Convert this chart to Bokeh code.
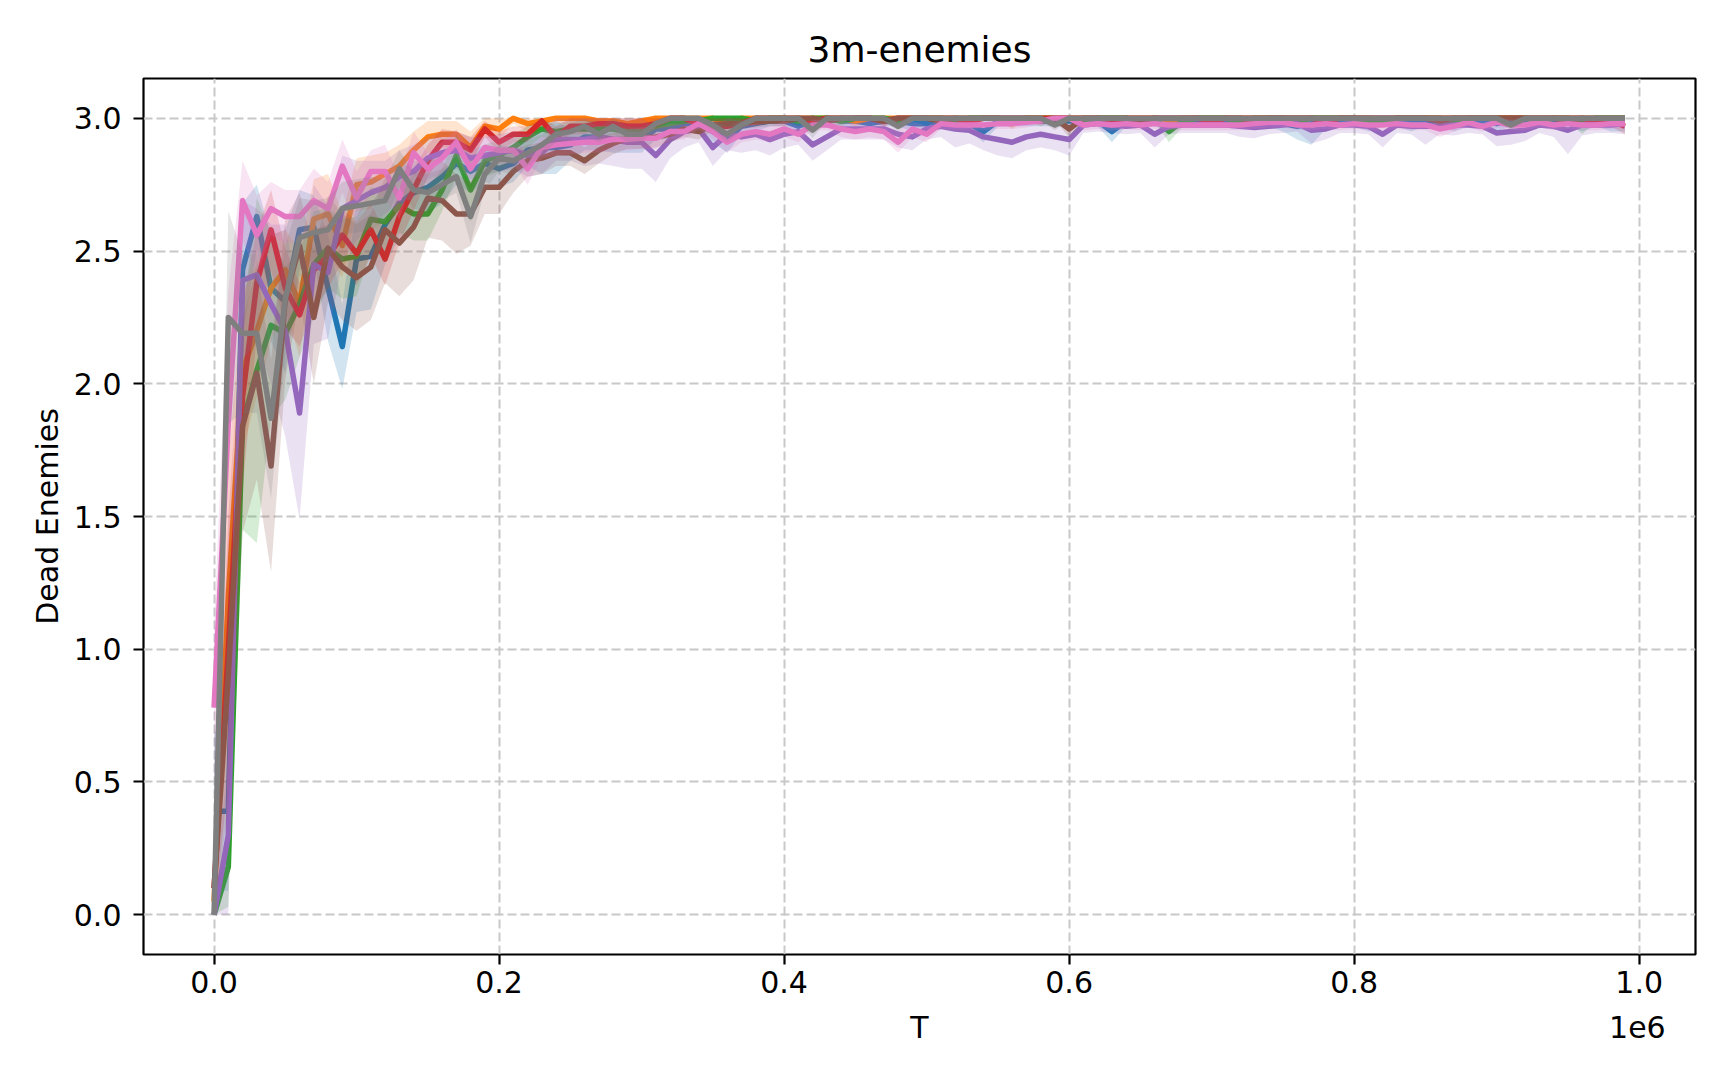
#!/usr/bin/env python3

from bokeh.embed import file_html
from bokeh.models import CustomJSTickFormatter, FixedTicker, LinearAxis, NumeralTickFormatter, Range1d
from bokeh.plotting import figure
from bokeh.resources import INLINE

# environment steps (T)
t_steps = [
    0, 10000, 20000, 30000, 40000, 50000, 60000, 70000, 80000, 90000,
    100000, 110000, 120000, 130000, 140000, 150000, 160000, 170000, 180000, 190000,
    200000, 210000, 220000, 230000, 240000, 250000, 260000, 270000, 280000, 290000,
    300000, 310000, 320000, 330000, 340000, 350000, 360000, 370000, 380000, 390000,
    400000, 410000, 420000, 430000, 440000, 450000, 460000, 470000, 480000, 490000,
    500000, 510000, 520000, 530000, 540000, 550000, 560000, 570000, 580000, 590000,
    600000, 610000, 620000, 630000, 640000, 650000, 660000, 670000, 680000, 690000,
    700000, 710000, 720000, 730000, 740000, 750000, 760000, 770000, 780000, 790000,
    800000, 810000, 820000, 830000, 840000, 850000, 860000, 870000, 880000, 890000,
    900000, 910000, 920000, 930000, 940000, 950000, 960000, 970000, 980000, 990000,
]

# mean dead enemies per run
mean_blue = [
    0.39, 0.39, 2.43, 2.63, 2.36, 2.31, 2.58, 2.59, 2.36, 2.14,
    2.47, 2.48, 2.60, 2.68, 2.72, 2.74, 2.78, 2.83, 2.80, 2.83,
    2.81, 2.83, 2.88, 2.89, 2.89, 2.90, 2.93, 2.93, 2.92, 2.92,
    2.92, 2.96, 2.96, 2.98, 2.98, 2.95, 2.92, 2.97, 2.98, 2.99,
    2.99, 2.97, 2.99, 3.00, 2.99, 2.99, 2.98, 2.99, 2.99, 2.98,
    2.98, 2.99, 2.99, 2.98, 2.95, 2.99, 2.99, 2.99, 2.99, 2.99,
    2.99, 2.99, 2.99, 2.95, 2.99, 2.99, 2.99, 2.98, 2.99, 2.99,
    2.99, 2.99, 2.99, 2.99, 2.99, 2.98, 2.97, 2.98, 2.99, 2.99,
    2.99, 2.98, 2.99, 2.99, 2.98, 2.99, 2.99, 2.98, 2.99, 2.99,
    2.98, 2.99, 2.99, 2.99, 2.99, 2.99, 2.98, 2.99, 2.98, 2.98,
]
mean_orange = [
    0.05, 1.20, 2.05, 2.20, 2.36, 2.43, 2.30, 2.62, 2.64, 2.52,
    2.75, 2.76, 2.79, 2.82, 2.88, 2.93, 2.94, 2.94, 2.89, 2.97,
    2.96, 3.00, 2.98, 2.99, 3.00, 3.00, 3.00, 2.99, 2.99, 2.98,
    2.99, 3.00, 3.00, 3.00, 3.00, 3.00, 2.98, 3.00, 3.00, 3.00,
    3.00, 3.00, 3.00, 3.00, 3.00, 2.99, 3.00, 3.00, 3.00, 3.00,
    3.00, 3.00, 3.00, 3.00, 3.00, 3.00, 2.98, 3.00, 3.00, 3.00,
    3.00, 3.00, 3.00, 3.00, 3.00, 3.00, 3.00, 2.99, 3.00, 3.00,
    3.00, 3.00, 3.00, 3.00, 3.00, 3.00, 3.00, 3.00, 3.00, 3.00,
    3.00, 3.00, 2.99, 3.00, 3.00, 3.00, 3.00, 3.00, 3.00, 3.00,
    3.00, 3.00, 3.00, 3.00, 3.00, 3.00, 3.00, 3.00, 3.00, 3.00,
]
mean_green = [
    0.00, 0.18, 1.85, 2.05, 2.22, 2.19, 2.30, 2.45, 2.51, 2.47,
    2.48, 2.62, 2.61, 2.67, 2.64, 2.64, 2.73, 2.86, 2.73, 2.84,
    2.86, 2.89, 2.93, 2.96, 2.95, 2.96, 2.96, 2.96, 2.96, 2.95,
    2.95, 2.97, 2.98, 2.99, 2.99, 3.00, 3.00, 3.00, 2.99, 3.00,
    3.00, 2.99, 3.00, 3.00, 2.99, 3.00, 3.00, 3.00, 2.99, 3.00,
    3.00, 3.00, 2.99, 3.00, 3.00, 3.00, 2.99, 3.00, 3.00, 3.00,
    3.00, 2.99, 3.00, 3.00, 3.00, 2.99, 3.00, 2.95, 2.99, 3.00,
    3.00, 3.00, 2.99, 3.00, 3.00, 3.00, 2.99, 3.00, 3.00, 3.00,
    3.00, 2.99, 2.99, 3.00, 3.00, 3.00, 3.00, 2.99, 3.00, 3.00,
    3.00, 3.00, 3.00, 2.99, 3.00, 3.00, 2.99, 3.00, 3.00, 3.00,
]
mean_red = [
    0.10, 1.00, 1.95, 2.38, 2.58, 2.36, 2.26, 2.43, 2.48, 2.56,
    2.49, 2.58, 2.47, 2.63, 2.73, 2.84, 2.91, 2.91, 2.88, 2.96,
    2.91, 2.94, 2.94, 2.99, 2.93, 2.97, 2.97, 2.98, 2.98, 2.97,
    2.97, 2.98, 3.00, 3.00, 2.98, 2.97, 2.97, 2.98, 3.00, 3.00,
    3.00, 3.00, 2.99, 3.00, 3.00, 3.00, 3.00, 2.99, 3.00, 3.00,
    3.00, 3.00, 3.00, 2.99, 3.00, 3.00, 3.00, 3.00, 3.00, 3.00,
    3.00, 3.00, 3.00, 2.99, 3.00, 3.00, 3.00, 3.00, 3.00, 3.00,
    2.99, 3.00, 3.00, 3.00, 3.00, 3.00, 3.00, 3.00, 2.99, 3.00,
    3.00, 3.00, 3.00, 3.00, 3.00, 3.00, 3.00, 3.00, 3.00, 3.00,
    3.00, 3.00, 3.00, 3.00, 3.00, 3.00, 3.00, 2.99, 2.99, 2.97,
]
mean_purple = [
    0.00, 0.30, 2.39, 2.41, 2.30, 2.20, 1.89, 2.45, 2.42, 2.66,
    2.69, 2.72, 2.74, 2.78, 2.80, 2.85, 2.87, 2.88, 2.85, 2.86,
    2.87, 2.88, 2.86, 2.87, 2.92, 2.92, 2.92, 2.93, 2.92, 2.91,
    2.91, 2.86, 2.92, 2.95, 2.96, 2.89, 2.94, 2.93, 2.94, 2.92,
    2.94, 2.95, 2.90, 2.93, 2.96, 2.96, 2.96, 2.96, 2.94, 2.93,
    2.96, 2.97, 2.96, 2.955, 2.93, 2.92, 2.91, 2.93, 2.94, 2.93,
    2.92, 2.975, 2.98, 2.975, 2.97, 2.975, 2.94, 2.97, 2.975, 2.975,
    2.975, 2.975, 2.97, 2.965, 2.97, 2.975, 2.98, 2.955, 2.96, 2.975,
    2.975, 2.97, 2.94, 2.975, 2.97, 2.97, 2.97, 2.975, 2.975, 2.97,
    2.945, 2.95, 2.955, 2.975, 2.97, 2.955, 2.975, 2.975, 2.975, 2.98,
]
mean_brown = [
    0.10, 0.90, 1.84, 2.04, 1.69, 2.32, 2.52, 2.25, 2.51, 2.44,
    2.40, 2.44, 2.58, 2.53, 2.59, 2.70, 2.69, 2.64, 2.64, 2.74,
    2.74, 2.80, 2.84, 2.85, 2.87, 2.87, 2.84, 2.88, 2.905, 2.925,
    2.925, 2.93, 2.94, 2.96, 2.95, 2.975, 2.98, 2.98, 2.985, 2.99,
    2.99, 3.00, 3.00, 2.99, 3.00, 3.00, 3.00, 2.99, 3.00, 3.00,
    3.00, 2.99, 3.00, 3.00, 3.00, 3.00, 3.00, 3.00, 2.99, 3.00,
    2.96, 3.00, 3.00, 3.00, 3.00, 2.99, 3.00, 3.00, 3.00, 3.00,
    3.00, 3.00, 3.00, 2.99, 3.00, 3.00, 3.00, 3.00, 3.00, 3.00,
    3.00, 3.00, 3.00, 3.00, 3.00, 3.00, 2.99, 3.00, 3.00, 3.00,
    3.00, 3.00, 3.00, 3.00, 3.00, 2.99, 3.00, 3.00, 3.00, 3.00,
]
mean_pink = [
    0.78, 1.85, 2.69, 2.56, 2.66, 2.63, 2.63, 2.69, 2.66, 2.82,
    2.70, 2.80, 2.80, 2.70, 2.87, 2.81, 2.85, 2.91, 2.81, 2.89,
    2.88, 2.88, 2.81, 2.89, 2.90, 2.905, 2.91, 2.91, 2.92, 2.92,
    2.925, 2.925, 2.95, 2.95, 2.98, 2.95, 2.91, 2.94, 2.95, 2.94,
    2.96, 2.94, 2.975, 2.975, 2.96, 2.95, 2.96, 2.95, 2.91, 2.96,
    2.94, 2.98, 2.975, 2.975, 2.975, 2.98, 2.98, 2.985, 2.99, 3.00,
    3.00, 2.975, 2.98, 2.975, 2.98, 2.975, 2.98, 2.975, 2.975, 2.975,
    2.975, 2.975, 2.975, 2.98, 2.985, 2.985, 2.975, 2.975, 2.98, 2.975,
    2.98, 2.975, 2.975, 2.98, 2.975, 2.975, 2.96, 2.97, 2.985, 2.97,
    2.985, 2.975, 2.975, 2.985, 2.975, 2.98, 2.975, 2.975, 2.98, 2.98,
]
mean_gray = [
    0.00, 2.25, 2.19, 2.19, 1.87, 2.32, 2.55, 2.57, 2.58, 2.66,
    2.67, 2.68, 2.69, 2.81, 2.73, 2.72, 2.75, 2.78, 2.63, 2.79,
    2.85, 2.84, 2.87, 2.90, 2.94, 2.95, 2.97, 2.94, 2.97, 2.94,
    2.94, 2.98, 3.00, 3.00, 3.00, 2.975, 2.94, 2.975, 3.00, 3.00,
    3.00, 3.00, 2.955, 3.00, 3.00, 3.00, 3.00, 3.00, 2.97, 3.00,
    3.00, 3.00, 3.00, 3.00, 3.00, 3.00, 3.00, 3.00, 3.00, 2.975,
    3.00, 3.00, 3.00, 3.00, 3.00, 3.00, 3.00, 3.00, 3.00, 3.00,
    3.00, 3.00, 3.00, 3.00, 3.00, 3.00, 3.00, 3.00, 3.00, 3.00,
    3.00, 3.00, 3.00, 3.00, 3.00, 3.00, 3.00, 3.00, 3.00, 3.00,
    3.00, 2.975, 3.00, 3.00, 3.00, 3.00, 3.00, 3.00, 3.00, 3.00,
]

# half-width of the shaded band around each mean
spread_blue = [
    0.30, 0.30, 0.25, 0.12, 0.20, 0.27, 0.15, 0.12, 0.20, 0.16,
    0.20, 0.20, 0.15, 0.13, 0.12, 0.10, 0.10, 0.08, 0.08, 0.07,
    0.07, 0.07, 0.06, 0.10, 0.10, 0.06, 0.05, 0.05, 0.05, 0.05,
    0.05, 0.04, 0.04, 0.03, 0.03, 0.04, 0.05, 0.03, 0.03, 0.02,
    0.02, 0.03, 0.02, 0.02, 0.02, 0.02, 0.03, 0.02, 0.02, 0.03,
    0.03, 0.02, 0.02, 0.03, 0.04, 0.02, 0.02, 0.02, 0.02, 0.02,
    0.02, 0.02, 0.02, 0.04, 0.02, 0.02, 0.02, 0.03, 0.02, 0.02,
    0.02, 0.02, 0.02, 0.02, 0.02, 0.03, 0.05, 0.08, 0.03, 0.02,
    0.02, 0.03, 0.02, 0.02, 0.03, 0.02, 0.02, 0.03, 0.02, 0.02,
    0.03, 0.02, 0.02, 0.02, 0.02, 0.02, 0.03, 0.02, 0.03, 0.03,
]
spread_orange = [
    0.05, 0.50, 0.30, 0.25, 0.20, 0.15, 0.20, 0.15, 0.15, 0.12,
    0.10, 0.10, 0.08, 0.08, 0.07, 0.06, 0.05, 0.05, 0.06, 0.04,
    0.04, 0.02, 0.03, 0.02, 0.02, 0.02, 0.02, 0.02, 0.02, 0.02,
    0.02, 0.01, 0.01, 0.01, 0.01, 0.01, 0.02, 0.01, 0.01, 0.01,
    0.01, 0.01, 0.01, 0.01, 0.01, 0.02, 0.01, 0.01, 0.01, 0.01,
    0.01, 0.01, 0.01, 0.01, 0.01, 0.01, 0.02, 0.01, 0.01, 0.01,
    0.01, 0.01, 0.01, 0.01, 0.01, 0.01, 0.01, 0.02, 0.01, 0.01,
    0.01, 0.01, 0.01, 0.01, 0.01, 0.01, 0.01, 0.01, 0.01, 0.01,
    0.01, 0.01, 0.02, 0.01, 0.01, 0.01, 0.01, 0.01, 0.01, 0.01,
    0.01, 0.01, 0.01, 0.01, 0.01, 0.01, 0.01, 0.01, 0.01, 0.01,
]
spread_green = [
    0.05, 0.15, 0.40, 0.65, 0.35, 0.25, 0.20, 0.20, 0.15, 0.15,
    0.15, 0.12, 0.12, 0.10, 0.10, 0.10, 0.08, 0.08, 0.12, 0.06,
    0.06, 0.05, 0.04, 0.03, 0.03, 0.03, 0.03, 0.03, 0.03, 0.03,
    0.03, 0.02, 0.02, 0.01, 0.01, 0.01, 0.01, 0.01, 0.02, 0.01,
    0.01, 0.02, 0.01, 0.01, 0.02, 0.01, 0.01, 0.01, 0.02, 0.01,
    0.01, 0.01, 0.02, 0.01, 0.01, 0.01, 0.02, 0.01, 0.01, 0.01,
    0.01, 0.02, 0.01, 0.01, 0.01, 0.02, 0.01, 0.04, 0.02, 0.01,
    0.01, 0.01, 0.02, 0.01, 0.01, 0.01, 0.02, 0.01, 0.01, 0.01,
    0.01, 0.02, 0.02, 0.01, 0.01, 0.01, 0.01, 0.02, 0.01, 0.01,
    0.01, 0.01, 0.01, 0.02, 0.01, 0.01, 0.05, 0.01, 0.01, 0.01,
]
spread_red = [
    0.10, 0.50, 0.35, 0.20, 0.15, 0.15, 0.12, 0.15, 0.12, 0.10,
    0.12, 0.10, 0.10, 0.10, 0.08, 0.06, 0.05, 0.04, 0.05, 0.03,
    0.04, 0.03, 0.03, 0.02, 0.04, 0.03, 0.03, 0.02, 0.02, 0.03,
    0.03, 0.02, 0.01, 0.01, 0.02, 0.03, 0.03, 0.02, 0.01, 0.01,
    0.01, 0.01, 0.02, 0.01, 0.01, 0.01, 0.01, 0.02, 0.01, 0.01,
    0.01, 0.01, 0.01, 0.02, 0.01, 0.01, 0.01, 0.01, 0.01, 0.01,
    0.01, 0.01, 0.01, 0.02, 0.01, 0.01, 0.01, 0.01, 0.01, 0.01,
    0.02, 0.01, 0.01, 0.01, 0.01, 0.01, 0.01, 0.01, 0.02, 0.01,
    0.01, 0.01, 0.01, 0.01, 0.01, 0.01, 0.01, 0.01, 0.01, 0.01,
    0.01, 0.01, 0.01, 0.01, 0.01, 0.01, 0.01, 0.02, 0.02, 0.03,
]
spread_purple = [
    0.05, 0.30, 0.30, 0.25, 0.30, 0.40, 0.40, 0.30, 0.25, 0.20,
    0.15, 0.12, 0.10, 0.10, 0.10, 0.08, 0.08, 0.07, 0.08, 0.07,
    0.07, 0.07, 0.08, 0.08, 0.08, 0.08, 0.10, 0.10, 0.10, 0.10,
    0.10, 0.10, 0.07, 0.06, 0.05, 0.07, 0.06, 0.06, 0.06, 0.06,
    0.05, 0.05, 0.06, 0.05, 0.04, 0.04, 0.04, 0.04, 0.05, 0.05,
    0.04, 0.04, 0.07, 0.05, 0.05, 0.06, 0.06, 0.05, 0.05, 0.05,
    0.06, 0.03, 0.03, 0.03, 0.03, 0.03, 0.05, 0.03, 0.03, 0.03,
    0.03, 0.03, 0.04, 0.04, 0.03, 0.03, 0.03, 0.05, 0.04, 0.03,
    0.03, 0.03, 0.05, 0.03, 0.03, 0.07, 0.03, 0.04, 0.03, 0.03,
    0.05, 0.05, 0.04, 0.03, 0.04, 0.09, 0.04, 0.03, 0.03, 0.04,
]
spread_brown = [
    0.10, 0.50, 0.40, 0.40, 0.40, 0.30, 0.20, 0.25, 0.20, 0.20,
    0.20, 0.20, 0.20, 0.20, 0.20, 0.15, 0.15, 0.15, 0.12, 0.10,
    0.10, 0.08, 0.06, 0.06, 0.05, 0.05, 0.05, 0.05, 0.04, 0.04,
    0.04, 0.04, 0.03, 0.03, 0.03, 0.02, 0.02, 0.02, 0.02, 0.02,
    0.02, 0.01, 0.01, 0.02, 0.01, 0.01, 0.01, 0.02, 0.01, 0.01,
    0.01, 0.02, 0.01, 0.01, 0.01, 0.01, 0.01, 0.01, 0.02, 0.01,
    0.03, 0.01, 0.01, 0.01, 0.01, 0.02, 0.01, 0.01, 0.01, 0.01,
    0.01, 0.01, 0.01, 0.02, 0.01, 0.01, 0.01, 0.01, 0.01, 0.01,
    0.01, 0.01, 0.01, 0.01, 0.01, 0.01, 0.02, 0.01, 0.01, 0.01,
    0.01, 0.01, 0.01, 0.01, 0.01, 0.02, 0.01, 0.01, 0.01, 0.01,
]
spread_pink = [
    0.30, 0.50, 0.15, 0.15, 0.10, 0.10, 0.10, 0.12, 0.10, 0.10,
    0.10, 0.08, 0.10, 0.08, 0.08, 0.06, 0.06, 0.05, 0.06, 0.05,
    0.05, 0.05, 0.06, 0.04, 0.04, 0.04, 0.04, 0.04, 0.04, 0.04,
    0.04, 0.04, 0.03, 0.03, 0.02, 0.03, 0.04, 0.03, 0.03, 0.03,
    0.03, 0.03, 0.02, 0.02, 0.03, 0.03, 0.03, 0.03, 0.04, 0.03,
    0.03, 0.02, 0.02, 0.02, 0.02, 0.02, 0.02, 0.02, 0.01, 0.01,
    0.01, 0.02, 0.02, 0.02, 0.02, 0.02, 0.02, 0.02, 0.02, 0.02,
    0.02, 0.02, 0.02, 0.02, 0.02, 0.02, 0.02, 0.02, 0.02, 0.02,
    0.02, 0.02, 0.02, 0.02, 0.02, 0.02, 0.03, 0.02, 0.02, 0.02,
    0.02, 0.02, 0.02, 0.02, 0.02, 0.02, 0.02, 0.02, 0.02, 0.02,
]
spread_gray = [
    0.05, 0.40, 0.30, 0.30, 0.30, 0.20, 0.15, 0.12, 0.12, 0.10,
    0.10, 0.10, 0.08, 0.07, 0.07, 0.07, 0.06, 0.06, 0.10, 0.06,
    0.05, 0.05, 0.05, 0.04, 0.03, 0.03, 0.03, 0.03, 0.03, 0.03,
    0.03, 0.02, 0.01, 0.01, 0.01, 0.02, 0.03, 0.02, 0.01, 0.01,
    0.01, 0.01, 0.03, 0.01, 0.01, 0.01, 0.01, 0.01, 0.02, 0.01,
    0.01, 0.01, 0.01, 0.01, 0.01, 0.01, 0.01, 0.01, 0.01, 0.02,
    0.01, 0.01, 0.01, 0.01, 0.01, 0.01, 0.01, 0.01, 0.01, 0.01,
    0.01, 0.01, 0.01, 0.01, 0.01, 0.01, 0.01, 0.01, 0.01, 0.01,
    0.01, 0.01, 0.01, 0.01, 0.01, 0.01, 0.01, 0.01, 0.01, 0.01,
    0.01, 0.02, 0.01, 0.01, 0.01, 0.01, 0.01, 0.01, 0.01, 0.01,
]

x_ticks = [0, 200000, 400000, 600000, 800000, 1000000]
y_ticks = [0.0, 0.5, 1.0, 1.5, 2.0, 2.5, 3.0]
y_limits = [0.0, 3.0]
x_scale_text = "1e6"

runs = [
    (mean_blue, spread_blue, "#1f77b4"),
    (mean_orange, spread_orange, "#ff7f0e"),
    (mean_green, spread_green, "#2ca02c"),
    (mean_red, spread_red, "#d62728"),
    (mean_purple, spread_purple, "#9467bd"),
    (mean_brown, spread_brown, "#8c564b"),
    (mean_pink, spread_pink, "#e377c2"),
    (mean_gray, spread_gray, "#7f7f7f"),
]

FONT = "DejaVu Sans"

x_span = t_steps[-1] - t_steps[0]
x_pad = 0.05 * x_span
y_pad = 0.05 * (y_limits[1] - y_limits[0])
x_range = Range1d(t_steps[0] - x_pad, t_steps[-1] + x_pad)
y_range = Range1d(y_limits[0] - y_pad, y_limits[1] + y_pad)

p = figure(
    frame_width=1552,
    frame_height=876,
    min_border_left=143,
    min_border_right=24,
    min_border_top=78,
    min_border_bottom=104,
    x_range=x_range,
    y_range=y_range,
    output_backend="svg",
    toolbar_location=None,
    title="3m-enemies",
)
p.background_fill_color = "white"
p.border_fill_color = "white"
p.outline_line_color = "black"
p.outline_line_width = 2.2

p.title.align = "center"
p.title.text_font = FONT
p.title.text_font_size = "36px"
p.title.text_font_style = "normal"
p.title.text_color = "black"
p.title.standoff = 18

for mean, spread, color in runs:
    lower = [max(y_limits[0], m - s) for m, s in zip(mean, spread)]
    upper = [min(y_limits[1], m + s) for m, s in zip(mean, spread)]
    p.varea(x=t_steps, y1=lower, y2=upper, fill_color=color, fill_alpha=0.2)
    p.line(t_steps, mean, line_color=color, line_width=5.5, line_join="round")

for ax in (p.xaxis, p.yaxis):
    ax.axis_line_color = None
    ax.major_tick_out = 10
    ax.major_tick_in = 0
    ax.major_tick_line_width = 2.2
    ax.major_tick_line_color = "black"
    ax.minor_tick_line_color = None
    ax.major_label_text_font = FONT
    ax.major_label_text_font_size = "30px"
    ax.major_label_text_color = "black"
    ax.axis_label_text_font = FONT
    ax.axis_label_text_font_size = "30px"
    ax.axis_label_text_font_style = "normal"
    ax.axis_label_text_color = "black"

p.xaxis.ticker = FixedTicker(ticks=x_ticks)
p.xaxis.formatter = CustomJSTickFormatter(code="return (tick / 1e6).toFixed(1);")
p.xaxis.major_label_standoff = 6

p.yaxis.ticker = FixedTicker(ticks=y_ticks)
p.yaxis.formatter = NumeralTickFormatter(format="0.0")
p.yaxis.axis_label = "Dead Enemies"
p.yaxis.major_label_standoff = 12
p.yaxis.axis_label_standoff = 6

# second row under the tick labels: axis name in the middle, scale factor at the right end
name_pos = (x_range.start + x_range.end) / 2
scale_pos = x_ticks[-1] - 0.0013 * x_span
label_axis = LinearAxis(
    ticker=FixedTicker(ticks=[name_pos, scale_pos]),
    formatter=CustomJSTickFormatter(
        code="return tick > %f ? '%s' : 'T';" % ((name_pos + scale_pos) / 2, x_scale_text)
    ),
    axis_line_color=None,
    major_tick_line_color=None,
    minor_tick_line_color=None,
    major_tick_out=0,
    major_tick_in=0,
    major_label_standoff=14,
    major_label_text_font=FONT,
    major_label_text_font_size="30px",
    major_label_text_color="black",
)
p.add_layout(label_axis, "below")

for grid in (p.xgrid, p.ygrid):
    grid.grid_line_color = "#c8c8c8"
    grid.grid_line_width = 2
    grid.grid_line_dash = "9 4"

open("out.html", "w").write(file_html(p, INLINE))
